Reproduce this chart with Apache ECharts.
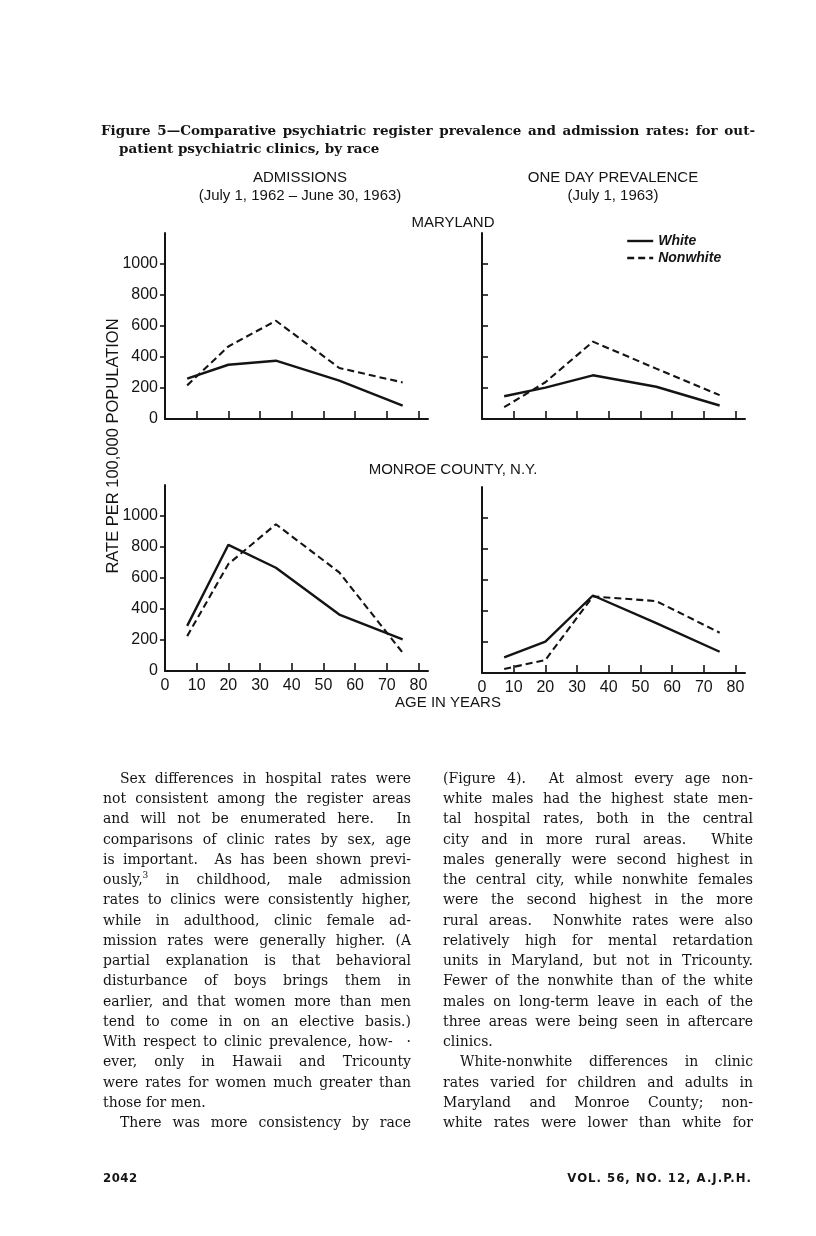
<!DOCTYPE html>
<html><head><meta charset="utf-8">
<script src="https://cdn.jsdelivr.net/npm/echarts@6.0.0/dist/echarts.min.js"></script>
<style>
html,body{margin:0;padding:0;background:#fff;}
#page{position:relative;width:816px;height:1236px;overflow:hidden;background:#fff;}
#chart{position:absolute;left:0;top:0;width:816px;height:1236px;}
.txt{position:absolute;color:#141414;}
.col{font-family:'DejaVu Serif',serif;font-size:14px;}
.line{white-space:nowrap;text-align:justify;text-align-last:justify;height:20.24px;line-height:20.24px;}
.line.last{text-align-last:left;}
.ind{padding-left:17px;}
sup{font-size:9px;line-height:0;vertical-align:6px;}
</style></head><body>
<div id="page">
<div id="chart"></div>
<div id="caption" class="txt" style="left:101px;top:121px;width:654px;font-family:'DejaVu Serif',serif;font-weight:bold;font-size:13.5px;">
  <div class="line" style="height:18px;line-height:18px;">Figure 5—Comparative psychiatric register prevalence and admission rates: for out-</div>
  <div class="line last" style="height:18px;line-height:18px;padding-left:18px;">patient psychiatric clinics, by race</div>
</div>
<div id="colL" class="txt col" style="left:103px;top:768px;width:308px;"></div>
<div id="colR" class="txt col" style="left:443px;top:768px;width:310px;"></div>
<div class="txt" style="left:103px;top:1170px;font-family:'DejaVu Sans Condensed','Liberation Sans Narrow',sans-serif;font-weight:bold;font-size:13px;letter-spacing:0.5px;">2042</div>
<div class="txt" style="right:64px;top:1170px;font-family:'DejaVu Sans Condensed','Liberation Sans Narrow',sans-serif;font-weight:bold;font-size:13px;letter-spacing:1px;">VOL. 56, NO. 12, A.J.P.H.</div>
</div>
<script>
// ---- data ----
const ages = [7, 20, 35, 55, 75];
const xTickValues = [0, 10, 20, 30, 40, 50, 60, 70, 80];
const yTickValues = [0, 200, 400, 600, 800, 1000];
const mdAdmWhite = [260, 350, 376, 247, 86];
const mdAdmNonwhite = [217, 468, 634, 329, 236];
const mdPrevWhite = [147, 202, 282, 208, 87];
const mdPrevNonwhite = [76, 237, 499, 325, 154];
const mcAdmWhite = [291, 814, 666, 364, 204];
const mcAdmNonwhite = [225, 690, 947, 636, 118];
const mcPrevWhite = [101, 202, 500, 322, 137];
const mcPrevNonwhite = [26, 84, 494, 464, 260];
const seriesNames = ['White', 'Nonwhite'];

// ---- body text ----
const leftLines = [
 ['ind','Sex differences in hospital rates were'],
 ['','not consistent among the register areas'],
 ['','and will not be enumerated here.&nbsp; In'],
 ['','comparisons of clinic rates by sex, age'],
 ['','is important.&nbsp; As has been shown previ-'],
 ['','ously,<sup>3</sup> in childhood, male admission'],
 ['','rates to clinics were consistently higher,'],
 ['','while in adulthood, clinic female ad-'],
 ['','mission rates were generally higher. (A'],
 ['','partial explanation is that behavioral'],
 ['','disturbance of boys brings them in'],
 ['','earlier, and that women more than men'],
 ['','tend to come in on an elective basis.)'],
 ['','With respect to clinic prevalence, how-&nbsp;&nbsp;·'],
 ['','ever, only in Hawaii and Tricounty'],
 ['','were rates for women much greater than'],
 ['last','those for men.'],
 ['ind','There was more consistency by race']
];
const rightLines = [
 ['','(Figure 4).&nbsp; At almost every age non-'],
 ['','white males had the highest state men-'],
 ['','tal hospital rates, both in the central'],
 ['','city and in more rural areas.&nbsp; White'],
 ['','males generally were second highest in'],
 ['','the central city, while nonwhite females'],
 ['','were the second highest in the more'],
 ['','rural areas.&nbsp; Nonwhite rates were also'],
 ['','relatively high for mental retardation'],
 ['','units in Maryland, but not in Tricounty.'],
 ['','Fewer of the nonwhite than of the white'],
 ['','males on long-term leave in each of the'],
 ['','three areas were being seen in aftercare'],
 ['last','clinics.'],
 ['ind','White-nonwhite differences in clinic'],
 ['','rates varied for children and adults in'],
 ['','Maryland and Monroe County; non-'],
 ['','white rates were lower than white for']
];
function fill(id, lines){
  document.getElementById(id).innerHTML = lines.map(l =>
    '<div class="line ' + l[0] + '">' + l[1] + '</div>').join('');
}
fill('colL', leftLines); fill('colR', rightLines);

// ---- chart ----
const INK = '#141414';
const SANS = "'Liberation Sans', Arial, sans-serif";
const grids = [
  {left:165, top:233, width:263, height:186},
  {left:482, top:233, width:263, height:186},
  {left:165, top:485, width:263, height:186},
  {left:482, top:487, width:263, height:186}
];
function xAx(i, labels){
  return {type:'value', gridIndex:i, min:0, max:83, interval:10,
    axisLine:{show:true, onZero:false, lineStyle:{color:INK, width:2}},
    axisTick:{show:true, inside:true, length:8, lineStyle:{color:INK, width:1.6}, customValues:[10,20,30,40,50,60,70,80]},
    axisLabel:{show:labels, customValues:xTickValues, formatter:v=>String(v), color:INK, fontSize:16, fontFamily:SANS, margin:7},
    splitLine:{show:false}};
}
function yAx(i, labels){
  return {type:'value', gridIndex:i, min:0, max:1200, interval:200,
    axisLine:{show:true, onZero:false, lineStyle:{color:INK, width:2}},
    axisTick:{show:true, inside:!labels, length:labels?5:6, lineStyle:{color:INK, width:1.6}, customValues:[200,400,600,800,1000]},
    axisLabel:{show:labels, customValues:yTickValues, formatter:v=>String(v), color:INK, fontSize:16, fontFamily:SANS, margin:7},
    splitLine:{show:false}};
}
function zip(v){ return ages.map((a,k)=>[a, v[k]]); }
function ser(i, name, vals){
  const white = name === 'White';
  return {type:'line', name:name, xAxisIndex:i, yAxisIndex:i, data:zip(vals),
    symbol:'none', animation:false, silent:true,
    lineStyle:{color:INK, width: white ? 2.4 : 2.1, type: white ? 'solid' : [7,4]},
    itemStyle:{color:INK}};
}
function txt(x, y, s, size, extra){
  return Object.assign({type:'text', x:x, y:y, silent:true,
    style:{text:s, fill:INK, font:'normal ' + size + 'px ' + SANS, align:'center', verticalAlign:'middle',
      textAlign:'center', textVerticalAlign:'middle'}}, extra || {});
}
const option = {
  backgroundColor:'transparent',
  animation:false,
  grid: grids,
  xAxis:[xAx(0,false), xAx(1,false), xAx(2,true), xAx(3,true)],
  yAxis:[yAx(0,true), yAx(1,false), yAx(2,true), yAx(3,false)],
  legend:{data:seriesNames, orient:'vertical', left:626, top:234, itemWidth:26, itemHeight:14, itemGap:3,
    selectedMode:false, padding:0,
    itemStyle:{color:'rgba(0,0,0,0)', borderWidth:0, opacity:0},
    lineStyle:{width:2.4},
    textStyle:{color:INK, fontSize:14, fontWeight:'bold', fontStyle:'italic', fontFamily:SANS}},
  series:[
    ser(0,'White',mdAdmWhite), ser(0,'Nonwhite',mdAdmNonwhite),
    ser(1,'White',mdPrevWhite), ser(1,'Nonwhite',mdPrevNonwhite),
    ser(2,'White',mcAdmWhite), ser(2,'Nonwhite',mcAdmNonwhite),
    ser(3,'White',mcPrevWhite), ser(3,'Nonwhite',mcPrevNonwhite)
  ],
  graphic:[
    txt(300, 178, 'ADMISSIONS', 15),
    txt(300, 196, '(July 1, 1962 – June 30, 1963)', 15),
    txt(613, 178, 'ONE DAY PREVALENCE', 15),
    txt(613, 196, '(July 1, 1963)', 15),
    txt(453, 223, 'MARYLAND', 15),
    txt(453, 470, 'MONROE COUNTY, N.Y.', 15),
    txt(448, 703, 'AGE IN YEARS', 15),
    txt(113, 446, 'RATE PER 100,000 POPULATION', 16.5, {rotation: Math.PI/2})
  ]
};
const chart = echarts.init(document.getElementById('chart'), null, {renderer:'canvas'});
chart.setOption(option);
</script>
</body></html>
